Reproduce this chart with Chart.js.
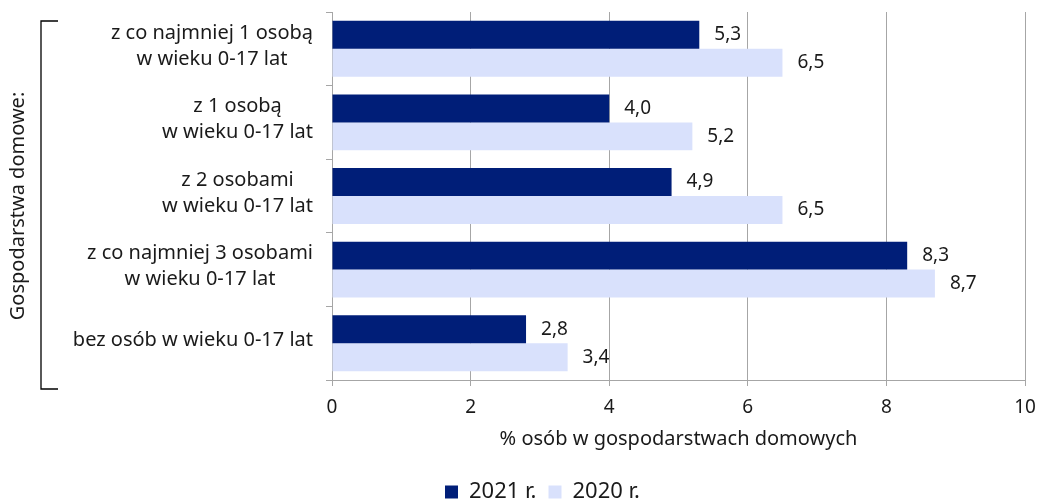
<!DOCTYPE html>
<html>
<head>
<meta charset="utf-8">
<script src="https://cdn.jsdelivr.net/npm/chart.js@4"></script>
<style>
  html, body { margin: 0; padding: 0; background: #fff; }
  #wrap { width: 1040px; height: 504px; }
</style>
</head>
<body>
<div id="wrap"><canvas id="chart"></canvas></div>
<script>
var categories = [
  ['z co najmniej 1 osobą', 'w wieku 0-17 lat'],
  ['z 1 osobą', 'w wieku 0-17 lat'],
  ['z 2 osobami', 'w wieku 0-17 lat'],
  ['z co najmniej 3 osobami', 'w wieku 0-17 lat'],
  ['bez osób w wieku 0-17 lat']
];
var values2021 = [5.3, 4.0, 4.9, 8.3, 2.8];
var values2020 = [6.5, 5.2, 6.5, 8.7, 3.4];
var seriesNames = ['2021 r.', '2020 r.'];
var groupTitle = 'Gospodarstwa domowe:';
var xTitle = '% osób w gospodarstwach domowych';

var FONT = '"Noto Sans", "Open Sans", sans-serif';
var FSIZE = 19;
var GRID = '#a6a6a6';
var TEXT = '#1a1a1a';

// wartosci na koncach slupkow
const valueLabels = {
  id: 'valueLabels',
  afterDatasetsDraw(chart) {
    const ctx = chart.ctx;
    ctx.save();
    ctx.font = FSIZE + 'px ' + FONT;
    ctx.fillStyle = TEXT;
    ctx.textBaseline = 'middle';
    ctx.textAlign = 'left';
    chart.data.datasets.forEach((ds, i) => {
      chart.getDatasetMeta(i).data.forEach((bar, j) => {
        ctx.fillText(ds.data[j].toFixed(1).replace('.', ','), bar.x + 15, bar.y);
      });
    });
    ctx.restore();
  }
};

// etykiety kategorii - wiersze wysrodkowane w bloku
const categoryLabels = {
  id: 'categoryLabels',
  afterDraw(chart) {
    const ctx = chart.ctx;
    const yScale = chart.scales.y;
    const right = chart.chartArea.left - 19;
    const lineH = 26;
    ctx.save();
    ctx.font = '20px ' + FONT;
    ctx.fillStyle = TEXT;
    ctx.textAlign = 'center';
    ctx.textBaseline = 'middle';
    categories.forEach((lines, i) => {
      const yc = yScale.getPixelForTick(i) - 3;
      const w = Math.max.apply(null, lines.map(l => ctx.measureText(l).width));
      const cx = right - w / 2;
      lines.forEach((l, k) => {
        ctx.fillText(l, cx, yc + (k - (lines.length - 1) / 2) * lineH);
      });
    });
    ctx.restore();
  }
};

// klamra i opis po lewej
const groupBracket = {
  id: 'groupBracket',
  afterDraw(chart) {
    const ctx = chart.ctx;
    const top = chart.chartArea.top + 9;
    const bottom = chart.chartArea.bottom + 9;
    ctx.save();
    ctx.strokeStyle = '#000';
    ctx.lineWidth = 1.3;
    ctx.beginPath();
    ctx.moveTo(58, top);
    ctx.lineTo(41, top);
    ctx.lineTo(41, bottom);
    ctx.lineTo(58, bottom);
    ctx.stroke();
    ctx.translate(18, 206);
    ctx.rotate(-Math.PI / 2);
    ctx.font = '20px ' + FONT;
    ctx.fillStyle = TEXT;
    ctx.textAlign = 'center';
    ctx.textBaseline = 'middle';
    ctx.fillText(groupTitle, 0, 0);
    ctx.restore();
  }
};

const config_bars = {
  type: 'bar',
  data: {
    labels: categories,
    datasets: [
      {
        label: seriesNames[0],
        backgroundColor: 'rgb(0, 30, 120)',
        data: values2021
      },
      {
        label: seriesNames[1],
        backgroundColor: 'rgb(217, 225, 252)',
        data: values2020
      }
    ]
  },
  options: {
    indexAxis: 'y',
    responsive: true,
    maintainAspectRatio: false,
    animation: false,
    categoryPercentage: 0.76,
    barPercentage: 1.0,
    layout: {
      padding: { top: 12, right: 15, left: 60, bottom: -9 }
    },
    plugins: {
      legend: {
        position: 'bottom',
        labels: {
          font: { family: FONT, size: 22 },
          color: TEXT,
          boxWidth: 13,
          boxHeight: 13,
          padding: 12
        }
      },
      tooltip: { enabled: false }
    },
    scales: {
      x: {
        min: 0,
        max: 10,
        afterFit(scale) {
          scale.height = 89;
          scale.paddingRight = 0;
        },
        ticks: {
          stepSize: 2,
          padding: 10,
          color: TEXT,
          font: { family: FONT, size: FSIZE }
        },
        grid: { color: GRID, tickLength: 6 },
        border: { color: GRID },
        title: {
          display: true,
          text: xTitle,
          color: TEXT,
          font: { family: FONT, size: 20 },
          padding: { top: 0, bottom: 18 }
        }
      },
      y: {
        afterFit(scale) { scale.width = 272; },
        ticks: { display: false },
        grid: { drawOnChartArea: false, offset: true, color: GRID, tickLength: 6 },
        border: { color: GRID }
      }
    }
  },
  plugins: [valueLabels, categoryLabels, groupBracket]
};

const ChartBars = new Chart(
  document.getElementById('chart'),
  config_bars
);
</script>
</body>
</html>
